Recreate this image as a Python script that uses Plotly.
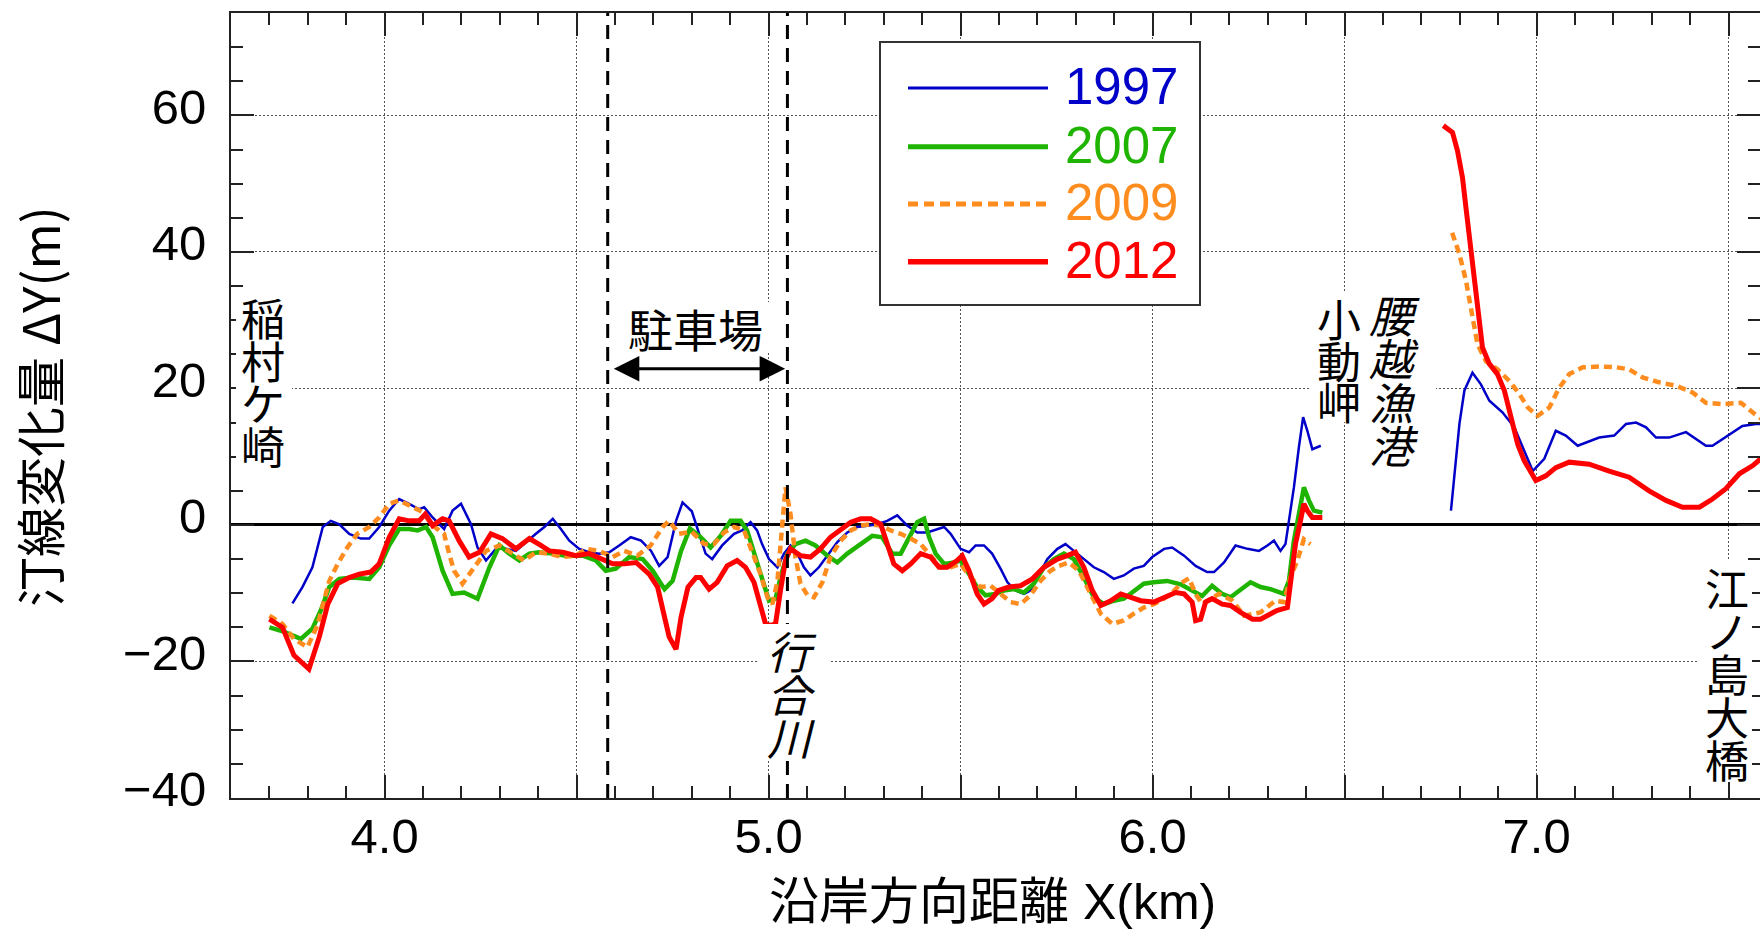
import plotly.graph_objects as go

# ---------------- data ----------------
years = ["1997", "2007", "2009", "2012"]
colors = ["#0000C8", "#1EB400", "#FF8C1E", "#FF0000"]

x_1997 = [3.760, 3.786, 3.812, 3.839, 3.860, 3.882, 3.908, 3.938, 3.960, 3.986, 4.012, 4.038, 4.064, 4.090,
          4.103, 4.125, 4.155, 4.177, 4.199, 4.225, 4.242, 4.264, 4.290, 4.316, 4.342, 4.368, 4.394, 4.416,
          4.438, 4.459, 4.481, 4.507, 4.533, 4.559, 4.585, 4.611, 4.641, 4.668, 4.694, 4.715, 4.737, 4.759,
          4.776, 4.800, 4.814, 4.836, 4.853, 4.879, 4.910, 4.931, 4.953, 4.970, 4.983, 5.001, 5.023, 5.040,
          5.057, 5.075, 5.092, 5.109, 5.131, 5.153, 5.179, 5.205, 5.231, 5.257, 5.283, 5.309, 5.335, 5.361,
          5.387, 5.413, 5.439, 5.457, 5.474, 5.500, 5.522, 5.539, 5.561, 5.582, 5.604, 5.622, 5.643, 5.665,
          5.682, 5.704, 5.726, 5.752, 5.773, 5.795, 5.821, 5.847, 5.873, 5.899, 5.925, 5.951, 5.977, 5.999,
          6.030, 6.051, 6.082, 6.112, 6.142, 6.160, 6.186, 6.216, 6.247, 6.277, 6.299, 6.316, 6.333, 6.346,
          6.355, 6.368, 6.381, 6.392, 6.403, 6.416, 6.438, None,
          6.777, 6.790, 6.799, 6.812, 6.833, 6.855, 6.877, 6.911, 6.942, 6.990, 7.020, 7.050, 7.076, 7.107,
          7.137, 7.163, 7.202, 7.233, 7.259, 7.285, 7.311, 7.345, 7.389, 7.415, 7.441, 7.458, 7.484, 7.510,
          7.536, 7.571, 7.600]
y_1997 = [-11.5, -9.1, -6.2, -0.3, 0.6, 0.1, -1.3, -2.0, -2.0, -0.3, 2.1, 3.8, 3.1, 2.3,
          2.6, 1.1, -0.6, 2.1, 3.1, 0.1, -3.3, -5.2, -3.5, -3.5, -3.8, -2.5, -1.3, -0.3,
          0.9, -0.6, -2.3, -3.5, -4.0, -4.2, -4.0, -3.0, -1.8, -2.3, -3.8, -6.0, -4.7, 0.6,
          3.3, 2.0, -0.3, -4.2, -5.0, -3.0, -1.3, -0.8, 0.4, -0.8, -2.8, -5.0, -6.2, -4.2,
          -3.0, -4.2, -6.2, -7.4, -6.2, -4.5, -2.5, -1.1, -0.3, -0.1, 0.1, 0.6, 1.4, -0.1,
          -1.1, -1.1, -0.6, -0.3, -1.3, -3.5, -4.0, -3.0, -3.0, -4.2, -6.4, -8.4, -9.6, -10.1,
          -9.6, -7.2, -5.0, -3.5, -2.8, -3.8, -5.0, -6.2, -6.9, -7.9, -7.4, -6.4, -6.0, -4.7,
          -3.5, -3.3, -4.5, -6.0, -6.9, -6.9, -5.5, -3.0, -3.5, -3.8, -3.0, -2.3, -3.8, -2.8,
          0.6, 5.5, 11.4, 15.8, 13.8, 11.1, 11.6, None,
          2.1, 9.4, 14.8, 19.7, 22.3, 20.6, 18.2, 16.5, 14.3, 7.9, 9.7, 13.8, 13.1, 11.6,
          12.3, 12.8, 13.1, 14.8, 15.0, 14.3, 12.8, 12.8, 13.6, 12.6, 11.6, 11.6, 12.6, 13.6,
          14.5, 14.8, 14.8]

x_2007 = [3.700, 3.735, 3.782, 3.812, 3.834, 3.856, 3.882, 3.917, 3.960, 3.986, 4.012, 4.038, 4.064, 4.086,
          4.108, 4.125, 4.151, 4.177, 4.207, 4.242, 4.273, 4.299, 4.325, 4.351, 4.377, 4.403, 4.438, 4.472,
          4.516, 4.550, 4.576, 4.602, 4.637, 4.672, 4.698, 4.729, 4.750, 4.772, 4.795, 4.823, 4.849, 4.875,
          4.901, 4.927, 4.944, 4.966, 4.983, 5.001, 5.018, 5.031, 5.049, 5.070, 5.096, 5.122, 5.153, 5.179,
          5.205, 5.240, 5.270, 5.296, 5.322, 5.344, 5.365, 5.387, 5.405, 5.418, 5.435, 5.457, 5.483, 5.500,
          5.522, 5.543, 5.565, 5.591, 5.613, 5.639, 5.665, 5.691, 5.717, 5.743, 5.769, 5.795, 5.821, 5.847,
          5.873, 5.899, 5.925, 5.951, 5.977, 6.003, 6.038, 6.073, 6.103, 6.129, 6.155, 6.181, 6.203, 6.229,
          6.255, 6.281, 6.307, 6.342, 6.355, 6.368, 6.381, 6.394, 6.407, 6.420, 6.442]
y_2007 = [-15.0, -15.6, -16.7, -15.2, -12.5, -9.1, -7.9, -7.7, -7.9, -6.2, -3.0, -0.6, -0.6, -0.8,
          -0.3, -1.8, -6.7, -10.1, -9.9, -10.8, -6.2, -3.0, -4.2, -5.2, -4.2, -4.0, -4.2, -4.5,
          -4.5, -5.2, -6.7, -6.4, -4.7, -5.0, -6.7, -9.4, -8.2, -3.8, -0.5, -1.8, -3.3, -1.6,
          0.6, 0.6, -0.8, -4.7, -8.2, -11.1, -10.8, -7.7, -4.2, -2.8, -2.3, -3.0, -4.5, -5.5,
          -4.2, -2.8, -1.6, -1.8, -4.2, -4.2, -1.8, 0.4, 0.9, -1.8, -4.2, -5.7, -5.5, -5.2,
          -7.2, -9.1, -10.3, -10.1, -9.6, -9.4, -9.9, -8.6, -6.2, -5.0, -4.2, -5.0, -7.7, -10.6,
          -11.6, -11.1, -10.8, -9.6, -8.6, -8.4, -8.2, -8.7, -9.6, -10.4, -8.9, -10.1, -10.6, -9.4,
          -8.4, -9.1, -9.4, -10.1, -8.2, -2.3, 1.6, 5.5, 3.6, 2.1, 1.8]

x_2009 = [3.700, 3.734, 3.764, 3.799, 3.825, 3.856, 3.878, 3.903, 3.929, 3.960, 3.986, 4.012, 4.038, 4.068,
          4.099, 4.125, 4.155, 4.168, 4.181, 4.203, 4.238, 4.264, 4.299, 4.333, 4.363, 4.394, 4.429, 4.464,
          4.498, 4.524, 4.559, 4.594, 4.624, 4.658, 4.693, 4.724, 4.741, 4.767, 4.800, 4.832, 4.858, 4.884,
          4.910, 4.936, 4.957, 4.979, 4.997, 5.010, 5.023, 5.031, 5.044, 5.057, 5.070, 5.083, 5.101, 5.118,
          5.140, 5.161, 5.188, 5.214, 5.240, 5.266, 5.292, 5.318, 5.344, 5.370, 5.396, 5.422, 5.448, 5.474,
          5.500, 5.526, 5.552, 5.578, 5.604, 5.630, 5.656, 5.682, 5.708, 5.734, 5.756, 5.782, 5.808, 5.834,
          5.865, 5.895, 5.925, 5.951, 5.977, 6.003, 6.021, 6.050, 6.075, 6.095, 6.112, 6.129, 6.173, 6.208,
          6.238, 6.281, 6.320, 6.342, 6.359, 6.377, 6.394, 6.411, None,
          6.780, 6.799, 6.816, 6.833, 6.846, 6.868, 6.898, 6.929, 6.955, 6.977, 7.003, 7.033, 7.059, 7.085,
          7.120, 7.163, 7.207, 7.241, 7.276, 7.319, 7.363, 7.406, 7.441, 7.484, 7.532, 7.567, 7.600]
y_2009 = [-13.3, -14.5, -16.7, -17.9, -14.7, -8.2, -5.7, -3.3, -1.3, -0.3, 1.1, 3.1, 3.6, 2.8,
          1.9, -0.1, -1.3, -4.2, -6.7, -8.6, -5.7, -3.8, -3.0, -4.2, -5.2, -4.0, -4.2, -4.7,
          -4.5, -3.5, -3.8, -4.7, -3.8, -4.5, -3.0, -0.3, 0.6, -1.3, -1.0, -2.8, -2.8, -1.1,
          -0.3, -0.8, -3.8, -7.2, -10.6, -11.6, -8.2, -2.3, 5.5, 1.6, -4.7, -8.6, -10.3, -10.6,
          -8.4, -4.7, -2.3, -0.8, -0.1, 0.1, -0.1, -0.8, -1.3, -2.0, -2.8, -4.5, -6.2, -6.2,
          -5.7, -7.7, -9.1, -8.9, -10.1, -11.3, -11.6, -10.3, -8.2, -6.7, -6.0, -5.5, -6.7, -9.6,
          -13.0, -14.5, -14.0, -13.0, -12.1, -11.6, -11.1, -10.0, -8.5, -7.8, -10.1, -11.6, -10.1, -11.1,
          -13.3, -12.8, -11.1, -11.3, -7.7, -5.2, -2.1, -2.8, None,
          42.8, 39.7, 35.8, 30.4, 26.5, 24.0, 22.8, 21.1, 19.2, 17.2, 16.0, 17.2, 20.1, 22.1,
          23.1, 23.2, 23.1, 22.8, 21.6, 20.9, 20.4, 19.4, 17.9, 17.7, 17.9, 16.3, 15.0]

x_2012 = [3.700, 3.734, 3.764, 3.803, 3.830, 3.852, 3.878, 3.908, 3.934, 3.964, 3.986, 4.012, 4.038, 4.064,
          4.090, 4.106, 4.125, 4.151, 4.168, 4.194, 4.220, 4.247, 4.277, 4.307, 4.342, 4.377, 4.407, 4.429,
          4.464, 4.498, 4.533, 4.568, 4.594, 4.624, 4.655, 4.689, 4.711, 4.729, 4.741, 4.759, 4.772, 4.790,
          4.811, 4.823, 4.845, 4.866, 4.892, 4.918, 4.940, 4.962, 4.979, 4.992, 5.005, 5.018, 5.031, 5.044,
          5.057, 5.083, 5.109, 5.135, 5.161, 5.188, 5.214, 5.240, 5.266, 5.292, 5.309, 5.326, 5.348, 5.370,
          5.396, 5.422, 5.444, 5.465, 5.491, 5.504, 5.522, 5.543, 5.561, 5.582, 5.599, 5.626, 5.656, 5.687,
          5.717, 5.752, 5.778, 5.799, 5.821, 5.843, 5.865, 5.891, 5.917, 5.943, 5.969, 6.003, 6.034, 6.060,
          6.082, 6.103, 6.112, 6.125, 6.138, 6.155, 6.181, 6.203, 6.229, 6.260, 6.281, 6.307, 6.325, 6.351,
          6.359, 6.372, 6.385, 6.394, 6.403, 6.416, 6.442, None,
          6.757, 6.781, 6.794, 6.807, 6.816, 6.825, 6.833, 6.842, 6.851, 6.859, 6.877, 6.898, 6.916, 6.933,
          6.951, 6.968, 6.998, 7.024, 7.050, 7.085, 7.137, 7.189, 7.241, 7.293, 7.337, 7.380, 7.424, 7.458,
          7.493, 7.528, 7.563, 7.600]
y_2012 = [-13.8, -15.0, -19.1, -21.1, -16.4, -11.6, -8.6, -7.7, -7.2, -6.9, -5.7, -1.8, 0.9, 0.6,
          0.6, 1.6, -0.1, 0.9, 0.6, -2.3, -4.7, -4.0, -1.3, -2.0, -3.5, -2.0, -3.0, -3.8,
          -4.0, -4.5, -4.2, -5.0, -5.7, -5.7, -5.5, -7.2, -9.1, -13.5, -16.4, -18.2, -13.5, -9.1,
          -7.7, -7.7, -9.4, -8.4, -6.0, -5.2, -6.2, -8.4, -11.6, -14.5, -14.7, -14.5, -9.6, -5.2,
          -3.5, -4.5, -4.7, -3.5, -1.8, -0.6, 0.4, 0.9, 0.9, 0.1, -2.8, -5.7, -6.7, -5.7,
          -4.2, -4.7, -6.2, -6.2, -5.2, -4.5, -6.7, -10.1, -11.6, -10.8, -9.6, -9.1, -8.9, -7.9,
          -6.2, -5.0, -4.5, -4.0, -6.2, -9.6, -11.8, -11.1, -10.1, -10.6, -11.1, -11.3, -10.6, -9.9,
          -10.1, -11.3, -14.0, -13.8, -11.3, -10.8, -11.6, -11.8, -12.8, -13.8, -13.8, -13.0, -12.5, -12.1,
          -8.2, -2.8, 0.6, 3.1, 2.1, 1.1, 1.1, None,
          58.5, 57.5, 54.8, 50.9, 46.5, 42.1, 37.7, 33.3, 29.4, 26.0, 23.6, 22.1, 19.7, 15.8,
          11.8, 9.4, 6.5, 7.2, 8.4, 9.2, 8.9, 7.9, 7.0, 5.0, 3.6, 2.6, 2.6, 3.8,
          5.3, 7.5, 8.7, 10.5]

series_x = [x_1997, x_2007, x_2009, x_2012]
series_y = [y_1997, y_2007, y_2009, y_2012]

x_tick_vals = [4.0, 4.5, 5.0, 5.5, 6.0, 6.5, 7.0, 7.5]
x_tick_text = ["4.0", "", "5.0", "", "6.0", "", "7.0", ""]
y_tick_vals = [-40, -20, 0, 20, 40, 60]
y_tick_text = ["\u221240", "\u221220", "0", "20", "40", "60"]

boundary_x = [4.581, 5.049]          # 駐車場 boundaries (dashed lines)
parking_label = "駐車場"
x_title = "沿岸方向距離 X(km)"
y_title = "汀線変化量 ΔY(m)"

# ---------------- style / layout ----------------
W, H = 1760, 932
ML, MR, MT, MB = 231, 0, 13, 134
PX_PER_KM = 384.0
X_RANGE = [3.6, 3.6 + (W - ML - MR) / PX_PER_KM]
Y_RANGE = [-40, 75]

line_widths = [2.5, 4.5, 4.5, 5.0]
line_dash = ["solid", "solid", "8px,5px", "solid"]
leg_widths = [3, 5, 5, 5.5]
leg_dash = ["solid", "solid", "10px,6px", "solid"]

JP = "Noto Sans CJK JP"
NUM = "Liberation Sans, Arial, sans-serif"
TITLE_FONT = "Liberation Sans, Noto Sans CJK JP, sans-serif"


def px_x(p):
    return (p - ML) / (W - ML - MR)


def px_y(p):
    return 1 - (p - MT) / (H - MT - MB)


fig = go.Figure()
for i, yr in enumerate(years):
    fig.add_trace(go.Scatter(
        x=series_x[i], y=series_y[i], mode="lines", name=yr,
        line=dict(color=colors[i], width=line_widths[i], dash=line_dash[i]),
        connectgaps=False, showlegend=False, hoverinfo="x+y+name"))

shapes = []
# dashed boundary lines
for bx in boundary_x:
    shapes.append(dict(type="line", xref="x", yref="paper", x0=bx, x1=bx, y0=0, y1=1,
                       line=dict(color="black", width=3, dash="14px,9px"), layer="above"))

# white backgrounds behind place names (pixel boxes)
bg_boxes = [(236, 292, 294, 472), (757, 831, 624, 760), (1309, 1364, 292, 422),
            (1364, 1436, 290, 468), (1697, 1752, 560, 782), (615, 780, 302, 352)]
for (x0, x1, y0, y1) in bg_boxes:
    shapes.append(dict(type="rect", xref="paper", yref="paper",
                       x0=px_x(x0), x1=px_x(x1), y0=px_y(y1), y1=px_y(y0),
                       fillcolor="white", line=dict(width=0), layer="above"))

# legend box
shapes.append(dict(type="rect", xref="paper", yref="paper",
                   x0=px_x(880), x1=px_x(1200), y0=px_y(305), y1=px_y(42),
                   fillcolor="white", line=dict(color="#333333", width=2), layer="above"))
leg_rows = [88, 146.7, 204, 261.7]
annotations = []
for i, yr in enumerate(years):
    shapes.append(dict(type="line", xref="paper", yref="paper",
                       x0=px_x(908), x1=px_x(1048), y0=px_y(leg_rows[i]), y1=px_y(leg_rows[i]),
                       line=dict(color=colors[i], width=leg_widths[i], dash=leg_dash[i]), layer="above"))
    annotations.append(dict(xref="paper", yref="paper", x=px_x(1063), y=px_y(leg_rows[i] - 1),
                            xanchor="left", yanchor="middle", text=yr, showarrow=False,
                            font=dict(family=NUM, size=51, color=colors[i])))

# vertical place names: (text, center x px, first char center y px, pitch px, italic)
place_labels = [("稲村ケ崎", 263, 317.5, 42.5, False),
                ("行合川", 792, 650, 43, True),
                ("小動岬", 1339, 318, 41.5, False),
                ("腰越漁港", 1394, 314, 43.3, True),
                ("江ノ島大橋", 1727, 587, 43, False)]
CHAR_PX = 44
for text, cx, cy, pitch, ital in place_labels:
    parts = []
    for ch in text:
        s = "<span style='font-size:%dpx'>%s</span>" % (CHAR_PX, ch)
        parts.append("<i>%s</i>" % s if ital else s)
    mid = cy + (len(text) - 1) * pitch / 2.0
    annotations.append(dict(xref="paper", yref="paper", x=px_x(cx), y=px_y(mid),
                            xanchor="center", yanchor="middle", showarrow=False,
                            text="<br>".join(parts), align="center",
                            font=dict(family=JP, size=pitch / 1.3, color="black")))

# parking label + double arrow
annotations.append(dict(xref="paper", yref="paper", x=px_x(695), y=px_y(328),
                        xanchor="center", yanchor="middle", showarrow=False, text=parking_label,
                        font=dict(family=JP, size=45, color="black")))
annotations.append(dict(xref="x", yref="y", axref="x", ayref="y",
                        x=boundary_x[1] - 0.006, y=22.9, ax=boundary_x[0] + 0.012, ay=22.9,
                        text="", showarrow=True, arrowside="end+start",
                        arrowhead=2, startarrowhead=2, arrowsize=1.7, startarrowsize=1.7,
                        arrowwidth=3, arrowcolor="black"))

# axis titles
annotations.append(dict(xref="paper", yref="paper", x=px_x(38), y=px_y(407), textangle=-90,
                        xanchor="center", yanchor="middle", showarrow=False, text=y_title,
                        font=dict(family=JP, size=50, color="black")))
annotations.append(dict(xref="paper", yref="paper", x=px_x(992), y=px_y(902),
                        xanchor="center", yanchor="middle", showarrow=False, text=x_title,
                        font=dict(family=TITLE_FONT, size=50, color="black")))

axis_common = dict(showline=True, linecolor="#222222", linewidth=2, mirror="ticks",
                   ticks="inside", ticklen=23, tickwidth=2, tickcolor="#222222",
                   showgrid=True, gridcolor="#555555", gridwidth=1.2, griddash="2px,2px",
                   tickfont=dict(family=NUM, size=49, color="black"))

fig.update_layout(
    width=W, height=H, margin=dict(l=ML, r=MR, t=MT, b=MB, autoexpand=False),
    paper_bgcolor="white", plot_bgcolor="white", showlegend=False,
    shapes=shapes, annotations=annotations,
    xaxis=dict(range=X_RANGE, tickmode="array", tickvals=x_tick_vals, ticktext=x_tick_text,
               zeroline=False, ticklabelstandoff=-6,
               minor=dict(dtick=0.1, tick0=0, ticks="inside", ticklen=12, tickwidth=2,
                          tickcolor="#222222", showgrid=False),
               **axis_common),
    yaxis=dict(range=Y_RANGE, tickmode="array", tickvals=y_tick_vals, ticktext=y_tick_text,
               zeroline=True, zerolinecolor="black", zerolinewidth=3, ticklabelstandoff=13,
               ticklabelshift=-9,
               minor=dict(dtick=5, tick0=0, ticks="inside", ticklen=12, tickwidth=2,
                          tickcolor="#222222", showgrid=False),
               **axis_common),
)

fig.write_html("out.html")
